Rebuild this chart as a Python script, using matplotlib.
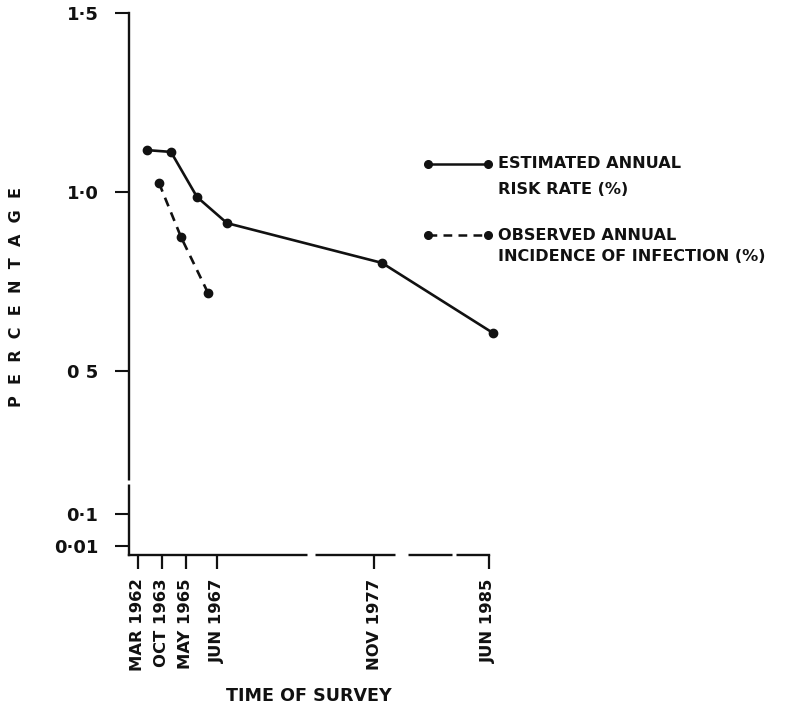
import matplotlib
matplotlib.use('Agg')
import matplotlib.pyplot as plt
import matplotlib.transforms as mtransforms
from matplotlib.lines import Line2D

# ---- data ----
tick_dates = [1962.17, 1963.75, 1965.33, 1967.42, 1977.83, 1985.42]
tick_labels = ['MAR 1962', 'OCT 1963', 'MAY 1965', 'JUN 1967', 'NOV 1977', 'JUN 1985']

est_x = [1962.77, 1964.36, 1966.09, 1968.08, 1978.35, 1985.72]
est_y = [1.117, 1.112, 0.986, 0.913, 0.802, 0.606]

obs_x = [1963.57, 1965.03, 1966.82]
obs_y = [1.025, 0.874, 0.718]

y_ticks = [0.01, 0.1, 0.5, 1.0, 1.5]
y_tick_labels = ['0·01', '0·1', '0 5', '1·0', '1·5']

legend_labels = [('ESTIMATED ANNUAL', 'RISK RATE (%)'),
                 ('OBSERVED ANNUAL', 'INCIDENCE OF INFECTION (%)')]

plt.rcParams['font.family'] = ['DejaVu Sans']
plt.rcParams['font.weight'] = 'bold'

W, H = 794, 711
fig = plt.figure(figsize=(W / 100, H / 100), dpi=100)
fig.patch.set_facecolor('white')
ax = fig.add_axes([129 / W, 1 - 555 / H, (489 - 129) / W, (555 - 13) / H])

ink = '#111111'
dash = (0, (3.5, 2.5))

ax.plot(est_x, est_y, color=ink, lw=1.9, marker='o', ms=6, clip_on=False, zorder=3)
ax.plot(obs_x, obs_y, color=ink, lw=1.9, ls=dash, marker='o', ms=6, zorder=3)

ax.set_xlim(1961.58, 1985.45)
ax.set_ylim(-0.014, 1.5)

for s in ['top', 'right']:
    ax.spines[s].set_visible(False)
for s in ['left', 'bottom']:
    ax.spines[s].set_linewidth(1.7)
    ax.spines[s].set_color(ink)

ax.set_xticks(tick_dates)
ax.set_xticklabels(tick_labels, rotation=90, fontweight='bold')
ax.set_yticks(y_ticks)
ax.set_yticklabels(y_tick_labels, fontweight='bold')
ax.tick_params(axis='x', direction='out', length=10, width=1.6, pad=7,
               labelsize=11.8, colors=ink)
ax.tick_params(axis='y', direction='out', length=10, width=1.5, pad=12,
               labelsize=13, colors=ink)

# axis breaks (scale breaks drawn as gaps in the axis lines)
ybr = mtransforms.blended_transform_factory(ax.transAxes, ax.transData)
ax.plot([0, 0], [0.183, 0.196], color='white', lw=5, transform=ybr,
        clip_on=False, zorder=6, solid_capstyle='butt')
xbr = mtransforms.blended_transform_factory(ax.transData, ax.transAxes)
for a, b in [(1973.37, 1973.90), (1979.22, 1980.08), (1983.0, 1983.27)]:
    ax.plot([a, b], [0, 0], color='white', lw=5, transform=xbr,
            clip_on=False, zorder=6, solid_capstyle='butt')

ax.set_xlabel('TIME OF SURVEY', fontsize=12.6, color=ink, fontweight='bold')
ax.xaxis.set_label_coords(0.5, -(696 - 555) / (555 - 13), transform=ax.transAxes)
ax.xaxis.label.set_va('center')

fig.text(17 / W, 1 - 297 / H, '  '.join('PERCENTAGE'), rotation=90,
         ha='center', va='center', fontsize=11.5, color=ink, fontweight='bold')

# legend
rows = [(164, 190, '-'), (235, 257, dash)]
for (l1, l2), (y1, y2, ls) in zip(legend_labels, rows):
    fig.add_artist(Line2D([428 / W, 488 / W], [1 - y1 / H, 1 - y1 / H],
                          color=ink, lw=1.8, ls=ls, marker='o', ms=5.5,
                          transform=fig.transFigure))
    fig.text(498 / W, 1 - y1 / H, l1, ha='left', va='center', fontsize=11.6,
             color=ink, fontweight='bold')
    fig.text(498 / W, 1 - y2 / H, l2, ha='left', va='center', fontsize=11.6,
             color=ink, fontweight='bold')

fig.savefig('out.png', dpi=100, facecolor='white')
